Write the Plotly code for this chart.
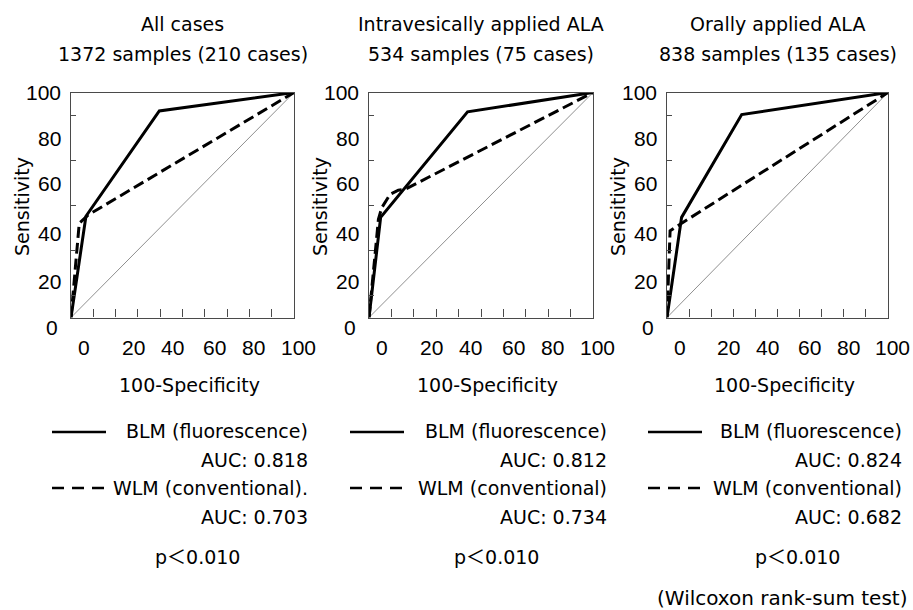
import plotly.graph_objects as go

# ---------------- data ----------------
panel_titles = ["All cases", "Intravesically applied ALA", "Orally applied ALA"]
panel_subtitles = ["1372 samples (210 cases)", "534 samples (75 cases)", "838 samples (135 cases)"]

blm_x = [[0, 6.7, 39.6, 100], [0, 5.2, 44.0, 100], [0, 6.6, 33.8, 100]]
blm_y = [[0, 45.0, 91.8, 100], [0, 44.5, 91.4, 100], [0, 44.5, 90.2, 100]]
wlm_x = [[0, 3.7, 7.6, 100], [0, 4.2, 5.7, 9.4, 13.1, 16.0, 100], [0, 1.4, 3.6, 100]]
wlm_y = [[0, 41.9, 45.5, 100], [0, 43.6, 48.8, 54.7, 56.6, 56.9, 100], [0, 38.5, 40.0, 100]]
ref_x = [0, 100]
ref_y = [0, 100]

blm_name = "BLM (fluorescence)"
wlm_names = ["WLM (conventional).", "WLM (conventional)", "WLM (conventional)"]
auc_blm = ["0.818", "0.812", "0.824"]
auc_wlm = ["0.703", "0.734", "0.682"]
p_text = ["p＜0.010", "p＜0.010", "p＜0.010"]
test_note = "(Wilcoxon rank-sum test)"

tick_labels = ["0", "20", "40", "60", "80", "100"]
x_title = "100-Specificity"
y_title = "Sensitivity"

# ---------------- layout helpers ----------------
W, H = 913, 610
box_left = [71, 369, 667]
box_right = [294, 593, 888]
box_top, box_bottom = 92.5, 317.5
p_offset = [15, 15, 20]
# where the printed tick labels sit (fraction of axis length)
xlab_pos = [0.06, 0.28, 0.455, 0.645, 0.82, 1.02]
ylab_pos = [-0.044, 0.162, 0.375, 0.595, 0.794, 0.998]

FONT = "DejaVu Sans, Liberation Sans, Noto Sans CJK JP, sans-serif"
TICKFONT = "Liberation Sans, Arial, sans-serif"


def px(x):
    return x / W


def py(y):
    return 1 - y / H


def txt(text, x, y, xref="paper", yref="paper", xanchor="center", size=19, family=None, **kw):
    f = dict(size=size)
    if family:
        f["family"] = family
    return dict(text=text, x=x, y=y, xref=xref, yref=yref, xanchor=xanchor,
                yanchor="middle", showarrow=False, font=f, **kw)


fig = go.Figure()
annotations = []
shapes = []

for i in range(3):
    n = "" if i == 0 else str(i + 1)
    xa, ya = "x" + n, "y" + n
    fig.add_trace(go.Scatter(x=ref_x, y=ref_y, xaxis=xa, yaxis=ya, mode="lines",
                             line=dict(color="#8f8f8f", width=1), showlegend=False,
                             hoverinfo="skip"))
    fig.add_trace(go.Scatter(x=wlm_x[i], y=wlm_y[i], xaxis=xa, yaxis=ya, mode="lines",
                             line=dict(color="black", width=3, dash="11px,5px"),
                             showlegend=False, name="WLM"))
    fig.add_trace(go.Scatter(x=blm_x[i], y=blm_y[i], xaxis=xa, yaxis=ya, mode="lines",
                             line=dict(color="black", width=3), showlegend=False,
                             name="BLM"))

    axis_common = dict(range=[0, 100], showgrid=False, zeroline=False, showline=True,
                       mirror=True, linecolor="#4a4a4a", linewidth=1.3, ticks="inside",
                       tickcolor="#4a4a4a", tickwidth=1.2, showticklabels=False,
                       fixedrange=True)
    fig.layout["xaxis" + n] = dict(axis_common, domain=[px(box_left[i]), px(box_right[i])],
                                   anchor=ya, tickvals=[10, 20, 30, 40, 50, 60, 70, 80, 90],
                                   ticklen=8)
    fig.layout["yaxis" + n] = dict(axis_common, domain=[py(box_bottom), py(box_top)],
                                   anchor=xa, tickvals=[10, 30, 50, 70, 90], ticklen=5)

    cx = (box_left[i] + box_right[i]) / 2
    # titles
    annotations.append(txt(panel_titles[i], px(cx), py(24)))
    annotations.append(txt(panel_subtitles[i], px(cx), py(54)))
    # tick labels
    for lab, pos in zip(tick_labels, xlab_pos):
        annotations.append(txt(lab, pos, py(347), xref=xa + " domain", size=21, family=TICKFONT))
    for lab, pos in zip(tick_labels, ylab_pos):
        if lab == "0":
            annotations.append(txt(lab, px(box_left[i] - 19), pos, yref=ya + " domain",
                                   size=21, family=TICKFONT))
        else:
            annotations.append(txt(lab, px(box_left[i] - 8), pos, yref=ya + " domain",
                                   xanchor="right", size=21, family=TICKFONT))
    # axis titles
    annotations.append(txt(x_title, px(cx + 7), py(385)))
    annotations.append(txt(y_title, px(box_left[i] - 49), py(207), textangle=-90))
    # legend block
    rx = box_right[i] + 16
    for t, yy in [(blm_name, 431), ("AUC: " + auc_blm[i], 460),
                  (wlm_names[i], 488), ("AUC: " + auc_wlm[i], 517)]:
        annotations.append(txt(t, px(rx), py(yy), xanchor="right"))
    lx0, lx1 = box_left[i] - 19, box_left[i] + 35
    shapes.append(dict(type="line", xref="paper", yref="paper", x0=px(lx0), x1=px(lx1),
                       y0=py(432), y1=py(432), line=dict(color="black", width=2.5)))
    shapes.append(dict(type="line", xref="paper", yref="paper", x0=px(lx0), x1=px(lx1),
                       y0=py(488), y1=py(488), line=dict(color="black", width=2.5, dash="12px,8px")))
    annotations.append(txt(p_text[i], px(cx + p_offset[i]), py(557)))

annotations.append(txt(test_note, px(909), py(598), xanchor="right", size=20))

fig.update_layout(width=W, height=H, margin=dict(l=0, r=0, t=0, b=0),
                  paper_bgcolor="white", plot_bgcolor="white",
                  font=dict(family=FONT, color="black", size=19),
                  annotations=annotations, shapes=shapes, showlegend=False)

fig.write_html("out.html", config={"displayModeBar": False},
               post_script="document.body.style.margin='0px';")
